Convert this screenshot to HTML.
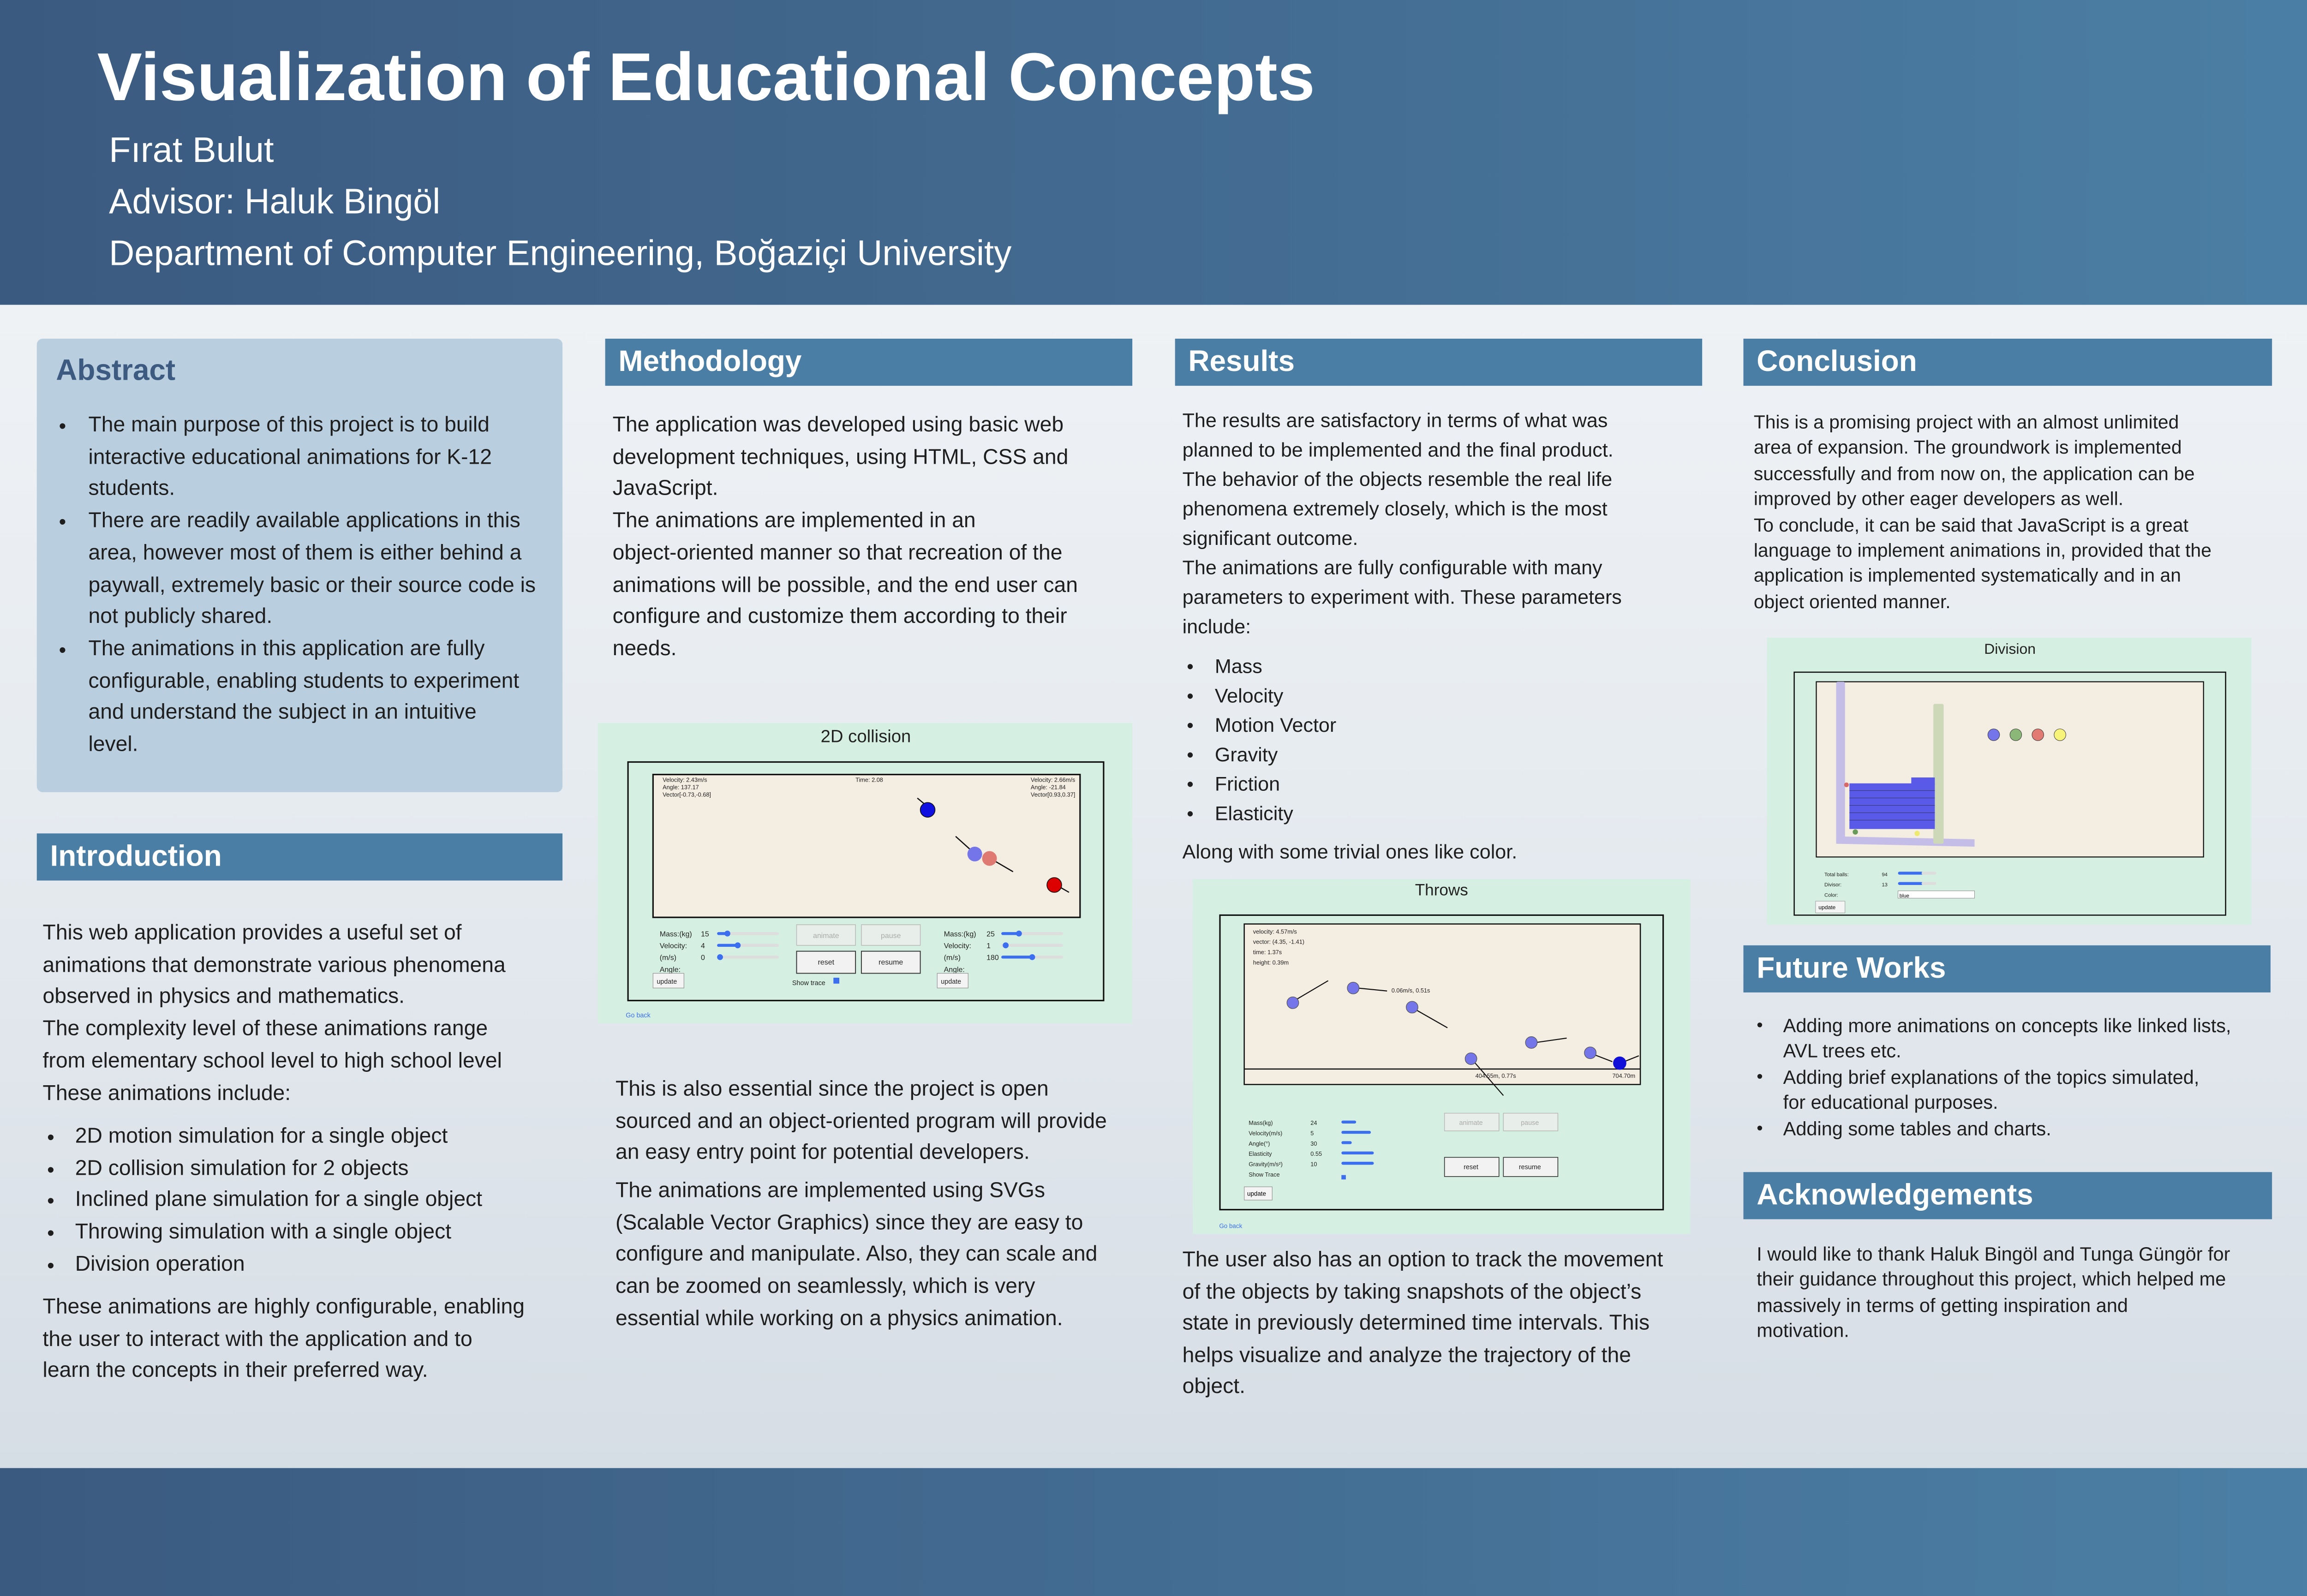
<!DOCTYPE html>
<html><head><meta charset="utf-8">
<style>
html,body{margin:0;padding:0;}
body{width:5184px;height:3456px;overflow:hidden;position:relative;font-family:"Liberation Sans",sans-serif;background:#d3dbe3;}
#w{position:absolute;left:0;top:0;width:1625px;height:1084px;transform:scale(3.1913);transform-origin:0 0;overflow:hidden;
background:linear-gradient(180deg,#f4f6f8 0%,#e6ebf0 50%,#d3dbe3 100%);}
.a{position:absolute;white-space:nowrap;}
.hdr{position:absolute;height:32px;background:#4a7ea5;color:#fff;font-weight:bold;font-size:20px;line-height:32px;padding-left:9px;box-sizing:border-box;}
.t{position:absolute;white-space:nowrap;color:#1e1e1e;}
</style></head><body><div id="w">
<div class="a" style="left:0;top:0;width:1625px;height:207px;background:linear-gradient(90deg,#3b5a80 0%,#446d93 55%,#4c80a6 100%);"></div>
<svg class="a" style="left:0;top:0" width="1568" height="207">
<text x="66" y="68" fill="#fff" font-family="Liberation Sans" font-weight="bold" font-size="46" textLength="827" lengthAdjust="spacingAndGlyphs">Visualization of Educational Concepts</text>
<text x="74" y="110" fill="#fff" font-family="Liberation Sans" font-size="24" textLength="112" lengthAdjust="spacingAndGlyphs">Fırat Bulut</text>
<text x="74" y="145" fill="#fff" font-family="Liberation Sans" font-size="24" textLength="225" lengthAdjust="spacingAndGlyphs">Advisor: Haluk Bingöl</text>
<text x="74" y="180" fill="#fff" font-family="Liberation Sans" font-size="24" textLength="613" lengthAdjust="spacingAndGlyphs">Department of Computer Engineering, Boğaziçi University</text>
</svg>
<div class="a" style="left:0;top:997px;width:1625px;height:90px;background:linear-gradient(90deg,#3b5a80,#4c80a6);"></div>

<div class="a" style="left:25px;top:230px;width:357px;height:308px;background:#b9cfe0;border-radius:4px;"></div>
<div class="a" style="left:38px;top:241px;font-size:20px;font-weight:bold;color:#3d5a80;">Abstract</div>
<div class="t" style="left:60px;top:279px;font-size:14.5px;line-height:21.7px;">
The main purpose of this project is to build<br>interactive educational animations for K-12<br>students.<br>There are readily available applications in this<br>area, however most of them is either behind a<br>paywall, extremely basic or their source code is<br>not publicly shared.<br>The animations in this application are fully<br>configurable, enabling students to experiment<br>and understand the subject in an intuitive<br>level.</div>
<div class="t" style="left:40px;top:279px;font-size:14px;line-height:21.7px;">•<br><br><br>•<br><br><br><br>•</div>

<div class="hdr" style="left:25px;top:566px;width:357px;">Introduction</div>
<div class="t" style="left:29px;top:624px;font-size:14.5px;line-height:21.7px;">
This web application provides a useful set of<br>animations that demonstrate various phenomena<br>observed in physics and mathematics.<br>The complexity level of these animations range<br>from elementary school level to high school level<br>These animations include:</div>
<div class="t" style="left:51px;top:762px;font-size:14.5px;line-height:21.7px;">
2D motion simulation for a single object<br>2D collision simulation for 2 objects<br>Inclined plane simulation for a single object<br>Throwing simulation with a single object<br>Division operation</div>
<div class="t" style="left:32px;top:762px;font-size:14px;line-height:21.7px;">•<br>•<br>•<br>•<br>•</div>
<div class="t" style="left:29px;top:878px;font-size:14.5px;line-height:21.7px;">
These animations are highly configurable, enabling<br>the user to interact with the application and to<br>learn the concepts in their preferred way.</div>

<div class="hdr" style="left:411px;top:230px;width:358px;">Methodology</div>
<div class="t" style="left:416px;top:279px;font-size:14.5px;line-height:21.7px;">
The application was developed using basic web<br>development techniques, using HTML, CSS and<br>JavaScript.<br>The animations are implemented in an<br>object-oriented manner so that recreation of the<br>animations will be possible, and the end user can<br>configure and customize them according to their<br>needs.</div>
<div class="t" style="left:418px;top:730px;font-size:14.5px;line-height:21.7px;">
This is also essential since the project is open<br>sourced and an object-oriented program will provide<br>an easy entry point for potential developers.</div>
<div class="t" style="left:418px;top:799px;font-size:14.5px;line-height:21.7px;">
The animations are implemented using SVGs<br>(Scalable Vector Graphics) since they are easy to<br>configure and manipulate. Also, they can scale and<br>can be zoomed on seamlessly, which is very<br>essential while working on a physics animation.</div>

<svg class="a" style="left:406px;top:491px" width="364" height="205" viewBox="406 491 364 205" font-family="Liberation Sans">
<rect x="406" y="491" width="363" height="204" fill="#d5efe2"/>
<text x="588" y="504" font-size="12" text-anchor="middle" fill="#222">2D collision</text>
<rect x="426.5" y="517.5" width="323" height="162" fill="none" stroke="#111" stroke-width="1"/>
<rect x="443.5" y="526" width="290" height="97" fill="#f4ede2" stroke="#111" stroke-width="1"/>
<g font-size="4" fill="#222"><text x="450" y="531">Velocity: 2.43m/s</text><text x="450" y="536">Angle: 137.17</text><text x="450" y="541">Vector[-0.73,-0.68]</text>
<text x="581" y="531">Time: 2.08</text><text x="700" y="531">Velocity: 2.66m/s</text><text x="700" y="536">Angle: -21.84</text><text x="700" y="541">Vector[0.93,0.37]</text></g>
<g stroke="#111" stroke-width="0.8"><line x1="629" y1="547" x2="623" y2="542"/><line x1="659" y1="577" x2="649" y2="568"/><line x1="676" y1="585" x2="688" y2="592"/><line x1="719" y1="602" x2="726" y2="606"/></g>
<circle cx="630" cy="550" r="5" fill="#1010e0" stroke="#111" stroke-width=".5"/>
<circle cx="662" cy="580" r="5" fill="#7575ea"/><circle cx="672" cy="583" r="5" fill="#df7a72"/>
<circle cx="716" cy="601" r="5" fill="#d00" stroke="#111" stroke-width=".5"/>
<g font-size="5" fill="#222"><text x="448" y="636">Mass:(kg)</text><text x="448" y="644">Velocity:</text><text x="448" y="652">(m/s)</text><text x="448" y="660">Angle:</text>
<text x="476" y="636">15</text><text x="476" y="644">4</text><text x="476" y="652">0</text>
<text x="641" y="636">Mass:(kg)</text><text x="641" y="644">Velocity:</text><text x="641" y="652">(m/s)</text><text x="641" y="660">Angle:</text>
<text x="670" y="636">25</text><text x="670" y="644">1</text><text x="670" y="652">180</text></g>
<g stroke="#ddd" stroke-width="2" stroke-linecap="round"><line x1="488" y1="634" x2="528" y2="634"/><line x1="488" y1="642" x2="528" y2="642"/><line x1="488" y1="650" x2="528" y2="650"/><line x1="681" y1="634" x2="721" y2="634"/><line x1="681" y1="642" x2="721" y2="642"/><line x1="681" y1="650" x2="721" y2="650"/></g>
<g stroke="#3b6ff0" stroke-width="2" stroke-linecap="round"><line x1="488" y1="634" x2="493" y2="634"/><line x1="488" y1="642" x2="500" y2="642"/><line x1="681" y1="634" x2="691" y2="634"/><line x1="681" y1="650" x2="701" y2="650"/></g>
<g fill="#3b6ff0"><circle cx="494" cy="634" r="2"/><circle cx="501" cy="642" r="2"/><circle cx="489" cy="650" r="2"/><circle cx="692" cy="634" r="2"/><circle cx="683" cy="642" r="2"/><circle cx="701" cy="650" r="2"/></g>
<rect x="541" y="628" width="40" height="14" fill="#e8eeea" stroke="#bbb" stroke-width=".5"/><rect x="585" y="628" width="40" height="14" fill="#e8eeea" stroke="#bbb" stroke-width=".5"/>
<rect x="541" y="646" width="40" height="15" fill="#f2f2f2" stroke="#333" stroke-width=".6"/><rect x="585" y="646" width="40" height="15" fill="#f2f2f2" stroke="#333" stroke-width=".6"/>
<g font-size="5" text-anchor="middle"><text x="561" y="637" fill="#aaa">animate</text><text x="605" y="637" fill="#aaa">pause</text><text x="561" y="655" fill="#222">reset</text><text x="605" y="655" fill="#222">resume</text></g>
<rect x="443.5" y="661" width="21" height="10" fill="#f4f4f4" stroke="#999" stroke-width=".4"/><rect x="636.5" y="661" width="21" height="10" fill="#f4f4f4" stroke="#999" stroke-width=".4"/>
<g font-size="4.5" fill="#222"><text x="446" y="668">update</text><text x="639" y="668">update</text><text x="538" y="669">Show trace</text></g>
<rect x="566" y="664" width="4" height="4" fill="#3b6ff0"/>
<text x="425" y="691" font-size="4.5" fill="#3b6ff0">Go back</text>
</svg>

<div class="hdr" style="left:798px;top:230px;width:358px;">Results</div>
<div class="t" style="left:803px;top:276px;font-size:13.5px;line-height:20px;">
The results are satisfactory in terms of what was<br>planned to be implemented and the final product.<br>The behavior of the objects resemble the real life<br>phenomena extremely closely, which is the most<br>significant outcome.<br>The animations are fully configurable with many<br>parameters to experiment with. These parameters<br>include:</div>
<div class="t" style="left:825px;top:443px;font-size:13.5px;line-height:20px;">Mass<br>Velocity<br>Motion Vector<br>Gravity<br>Friction<br>Elasticity</div>
<div class="t" style="left:806px;top:443px;font-size:13px;line-height:20px;">•<br>•<br>•<br>•<br>•<br>•</div>
<div class="t" style="left:803px;top:569px;font-size:13.5px;line-height:20px;">Along with some trivial ones like color.</div>
<div class="t" style="left:803px;top:846px;font-size:14.5px;line-height:21.6px;">
The user also has an option to track the movement<br>of the objects by taking snapshots of the object’s<br>state in previously determined time intervals. This<br>helps visualize and analyze the trajectory of the<br>object.</div>

<svg class="a" style="left:810px;top:597px" width="339" height="242" viewBox="810 597 339 242" font-family="Liberation Sans">
<rect x="810" y="597" width="338" height="241" fill="#d5efe2"/>
<text x="979" y="608" font-size="11" text-anchor="middle" fill="#222">Throws</text>
<rect x="828.5" y="621.5" width="301" height="200" fill="none" stroke="#111" stroke-width="1"/>
<rect x="845" y="627.5" width="269" height="109" fill="#f4ede2" stroke="#111" stroke-width=".8"/>
<line x1="845" y1="726" x2="1114" y2="726" stroke="#111" stroke-width=".8"/>
<g font-size="4" fill="#222"><text x="851" y="634">velocity: 4.57m/s</text><text x="851" y="641">vector: (4.35, -1.41)</text><text x="851" y="648">time: 1.37s</text><text x="851" y="655">height: 0.39m</text>
<text x="945" y="674">0.06m/s, 0.51s</text><text x="1002" y="732">404.55m, 0.77s</text><text x="1095" y="732">704.70m</text></g>
<g stroke="#111" stroke-width=".7"><line x1="880" y1="679" x2="902" y2="666"/><line x1="922" y1="671" x2="942" y2="673"/><line x1="962" y1="686" x2="983" y2="698"/><line x1="1001" y1="721" x2="1021" y2="744"/><line x1="1043" y1="708" x2="1064" y2="705"/><line x1="1082" y1="716" x2="1095" y2="721"/><line x1="1103" y1="721" x2="1113" y2="717"/></g>
<g fill="#7575ea" stroke="#555" stroke-width=".4"><circle cx="878" cy="681" r="4"/><circle cx="919" cy="671" r="4"/><circle cx="959" cy="684" r="4"/><circle cx="999" cy="719" r="4"/><circle cx="1040" cy="708" r="4"/><circle cx="1080" cy="715" r="4"/></g>
<circle cx="1100" cy="722" r="4.5" fill="#1010d8"/>
<g font-size="4" fill="#222"><text x="848" y="764">Mass(kg)</text><text x="848" y="771">Velocity(m/s)</text><text x="848" y="778">Angle(°)</text><text x="848" y="785">Elasticity</text><text x="848" y="792">Gravity(m/s²)</text><text x="848" y="799">Show Trace</text>
<text x="890" y="764">24</text><text x="890" y="771">5</text><text x="890" y="778">30</text><text x="890" y="785">0.55</text><text x="890" y="792">10</text></g>
<g stroke="#3b6ff0" stroke-width="2" stroke-linecap="round"><line x1="912" y1="762" x2="920" y2="762"/><line x1="912" y1="769" x2="930" y2="769"/><line x1="912" y1="776" x2="917" y2="776"/><line x1="912" y1="783" x2="932" y2="783"/><line x1="912" y1="790" x2="932" y2="790"/></g>
<rect x="911" y="798" width="3" height="3" fill="#3b6ff0"/>
<rect x="981" y="756" width="37" height="12" fill="#e8eeea" stroke="#bbb" stroke-width=".5"/><rect x="1021" y="756" width="37" height="12" fill="#e8eeea" stroke="#bbb" stroke-width=".5"/>
<rect x="981" y="786" width="37" height="13" fill="#f2f2f2" stroke="#333" stroke-width=".5"/><rect x="1021" y="786" width="37" height="13" fill="#f2f2f2" stroke="#333" stroke-width=".5"/>
<g font-size="4.5" text-anchor="middle"><text x="999" y="764" fill="#aaa">animate</text><text x="1039" y="764" fill="#aaa">pause</text><text x="999" y="794" fill="#222">reset</text><text x="1039" y="794" fill="#222">resume</text></g>
<rect x="845" y="806" width="19" height="9" fill="#f4f4f4" stroke="#999" stroke-width=".4"/><text x="847" y="812" font-size="4.2">update</text>
<text x="828" y="834" font-size="4.2" fill="#3b6ff0">Go back</text>
</svg>

<div class="hdr" style="left:1184px;top:230px;width:359px;">Conclusion</div>
<div class="t" style="left:1191px;top:278px;font-size:12.8px;line-height:17.4px;">
This is a promising project with an almost unlimited<br>area of expansion. The groundwork is implemented<br>successfully and from now on, the application can be<br>improved by other eager developers as well.<br>To conclude, it can be said that JavaScript is a great<br>language to implement animations in, provided that the<br>application is implemented systematically and in an<br>object oriented manner.</div>

<svg class="a" style="left:1200px;top:433px" width="330" height="196" viewBox="1200 433 330 196" font-family="Liberation Sans">
<rect x="1200" y="433" width="329" height="195" fill="#d5efe2"/>
<text x="1365" y="444" font-size="10" text-anchor="middle" fill="#222">Division</text>
<rect x="1218.5" y="456.5" width="293" height="165" fill="none" stroke="#111" stroke-width=".8"/>
<rect x="1233.5" y="463" width="263" height="119" fill="#f4ede2" stroke="#111" stroke-width=".7"/>
<rect x="1247" y="463" width="6" height="110" rx="1" fill="#c3bde8"/>
<polygon points="1247,568 1341,570 1341,575 1247,573" fill="#c3bde8"/>
<rect x="1313" y="478" width="7" height="95" rx="1" fill="#ccd8b8"/>
<rect x="1256" y="532" width="58" height="31" fill="#5a5ae8"/>
<rect x="1298" y="528" width="16" height="5" fill="#5a5ae8"/>
<g stroke="#222" stroke-width=".2" fill="none">
<line x1="1256" y1="537" x2="1314" y2="537"/><line x1="1256" y1="542" x2="1314" y2="542"/><line x1="1256" y1="547" x2="1314" y2="547"/><line x1="1256" y1="552" x2="1314" y2="552"/><line x1="1256" y1="557" x2="1314" y2="557"/>
</g>
<circle cx="1354" cy="499" r="4" fill="#7575ea" stroke="#333" stroke-width=".3"/><circle cx="1369" cy="499" r="4" fill="#8bb879" stroke="#333" stroke-width=".3"/><circle cx="1384" cy="499" r="4" fill="#e07a72" stroke="#333" stroke-width=".3"/><circle cx="1399" cy="499" r="4" fill="#f8f47a" stroke="#333" stroke-width=".3"/>
<g font-size="3.5" fill="#222"><text x="1239" y="595">Total balls:</text><text x="1239" y="602">Divisor:</text><text x="1239" y="609">Color:</text><text x="1278" y="595">94</text><text x="1278" y="602">13</text></g>
<g stroke="#3b6ff0" stroke-width="2" stroke-linecap="round"><line x1="1290" y1="593" x2="1305" y2="593"/><line x1="1290" y1="600" x2="1305" y2="600"/></g>
<g stroke="#ddd" stroke-width="2" stroke-linecap="round"><line x1="1306" y1="593" x2="1314" y2="593"/><line x1="1306" y1="600" x2="1314" y2="600"/></g>
<rect x="1289" y="605" width="52" height="5" fill="#fff" stroke="#888" stroke-width=".3"/><text x="1290" y="609.5" font-size="3.5">blue</text>
<rect x="1233" y="612" width="20" height="8" fill="#f4f4f4" stroke="#999" stroke-width=".3"/><text x="1235" y="617.5" font-size="3.8">update</text>
<circle cx="1254" cy="533" r="1.6" fill="#d86868"/><circle cx="1260" cy="565" r="1.8" fill="#6a9a5a"/><circle cx="1302" cy="566" r="1.8" fill="#eeea70"/>
</svg>

<div class="hdr" style="left:1184px;top:642px;width:358px;">Future Works</div>
<div class="t" style="left:1211px;top:688px;font-size:13px;line-height:17.4px;">
Adding more animations on concepts like linked lists,<br>AVL trees etc.<br>Adding brief explanations of the topics simulated,<br>for educational purposes.<br>Adding some tables and charts.</div>
<div class="t" style="left:1193px;top:688px;font-size:12px;line-height:17.4px;">•<br><br>•<br><br>•</div>

<div class="hdr" style="left:1184px;top:796px;width:359px;">Acknowledgements</div>
<div class="t" style="left:1193px;top:843px;font-size:13px;line-height:17.4px;">
I would like to thank Haluk Bingöl and Tunga Güngör for<br>their guidance throughout this project, which helped me<br>massively in terms of getting inspiration and<br>motivation.</div>
</div></body></html>
